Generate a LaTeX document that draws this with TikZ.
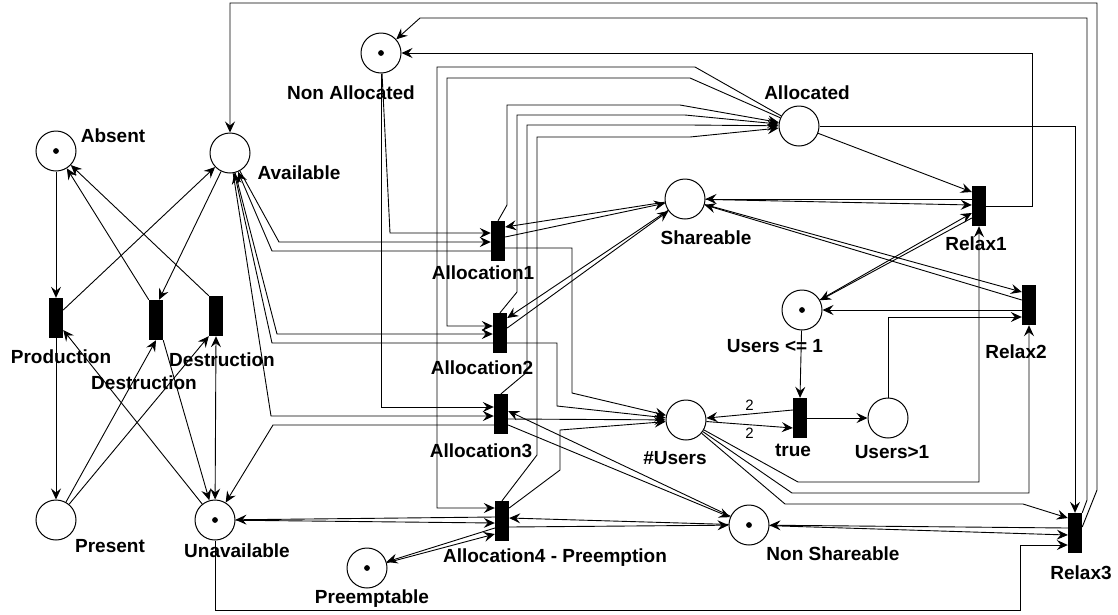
\documentclass[tikz,border=0pt]{standalone}
\usepackage{fontspec}
\setmainfont{Liberation Sans}
\usetikzlibrary{arrows.meta}
\begin{document}
\begin{tikzpicture}[x=1pt,y=-1pt,
  place/.style={circle,draw,line width=1pt,minimum size=40pt,inner sep=0pt,fill=white},
  trans/.style={rectangle,fill=black,minimum width=14pt,minimum height=40pt,inner sep=0pt},
  lab/.style={font=\fontsize{19}{22}\selectfont\bfseries,inner sep=0pt},
  wt/.style={font=\fontsize{15}{18}\selectfont,inner sep=0pt},
  arc/.style={line width=0.9pt,-{Stealth[length=11pt,width=10pt,inset=4pt]}},
  biarc/.style={line width=0.9pt,{Stealth[length=11pt,width=10pt,inset=4pt]}-{Stealth[length=11pt,width=10pt,inset=4pt]}}
]
\useasboundingbox (0,0) rectangle (1118,614);

% places
\node[place] (Absent) at (56,151) {};
\node[place] (Available) at (230,153) {};
\node[place] (Present) at (56,520) {};
\node[place] (Unavail) at (215,520) {};
\node[place] (Preempt) at (367,568) {};
\node[place] (NonAlloc) at (381,53) {};
\node[place] (Allocated) at (799,126) {};
\node[place] (Shareable) at (685,199) {};
\node[place] (UsersLe) at (802,310) {};
\node[place] (Users) at (686,420) {};
\node[place] (UsersGt) at (888,418) {};
\node[place] (NonShare) at (749,525) {};

% tokens of the initial marking
\foreach \p in {Absent,Unavail,Preempt,NonAlloc,UsersLe,NonShare}
  \fill (\p.center) circle (2.9pt);

% transitions
\node[trans] (Prod) at (56,318) {};
\node[trans] (DestrA) at (156,320) {};
\node[trans] (DestrB) at (216,316) {};
\node[trans] (Alloc1) at (498,241) {};
\node[trans] (Alloc2) at (500,333) {};
\node[trans] (Alloc3) at (501,414) {};
\node[trans] (Alloc4) at (502,521) {};
\node[trans] (Relax1) at (979,206) {};
\node[trans] (Relax2) at (1029,305) {};
\node[trans] (Relax3) at (1075,533) {};
\node[trans] (True) at (800,418) {};

% labels
\node[lab] (lAbsent) at (113,136) {Absent};
\node[lab] (lAvailable) at (299,173) {Available};
\node[lab] (lNonAlloc) at (351,93) {Non Allocated};
\node[lab] (lAllocated) at (807,93) {Allocated};
\node[lab] (lShareable) at (706,238) {Shareable};
\node[lab] (lRelax1) at (976,244) {Relax1};
\node[lab] (lAlloc1) at (483,273) {Allocation1};
\node[lab] (lUsersLe) at (775,346) {Users <= 1};
\node[lab] (lRelax2) at (1016,352) {Relax2};
\node[lab] (lProd) at (61,357) {Production};
\node[lab] (lDestrB) at (222,360) {Destruction};
\node[lab] (lDestrA) at (144,383) {Destruction};
\node[lab] (lAlloc2) at (482,368) {Allocation2};
\node[lab] (lAlloc3) at (481,451) {Allocation3};
\node[lab] (lUsers) at (675,458) {\#Users};
\node[lab] (lTrue) at (793,450) {true};
\node[lab] (lUsersGt) at (892,452) {Users>1};
\node[lab] (lPresent) at (110,546) {Present};
\node[lab] (lUnavail) at (237,551) {Unavailable};
\node[lab] (lAlloc4) at (555,558) {Allocation4 - Preemption};
\node[lab] (lNonShare) at (833,554) {Non Shareable};
\node[lab] (lRelax3) at (1081,573) {Relax3};
\node[lab] (lPreempt) at (372,599) {Preemptable};

% production / destruction
\draw[arc] (Absent) -- (Prod.north);
\draw[arc] (Prod.east |- 0,310) -- (Available);
\draw[arc] (Available) -- ([xshift=3pt]DestrA.north);
\draw[arc] (DestrA.north west) -- (Absent);
\draw[arc] (DestrB.north west) -- (Absent);
\draw[arc] (Prod.south) -- (Present);
\draw[arc] (Present) -- (DestrA.south);
\draw[arc] (Present) -- (DestrB.south west);
\draw[arc] (Unavail) -- (Prod.east |- 0,330);
\draw[arc] (DestrA.south east) -- (Unavail);
\draw[biarc] (DestrB.south) -- (Unavail);

% availability
\draw[arc] (Available) -- (279,242) -- (Alloc1.west |- 0,242);
\draw[arc] (Alloc1.west |- 0,251) -- (272,251) -- (Available);
\draw[arc] (Available) -- (277,334) -- (Alloc2.west |- 0,334);
\draw[arc] (Alloc2.west |- 0,343) -- (272,343) -- (Available);
\draw[arc] (Available) -- (271,416) -- (Alloc3.west |- 0,416);
\draw[arc] (Alloc3.west |- 0,425) -- (273,425) -- (Unavail);
\draw[arc] (Alloc4.west |- 0,517) -- (Unavail);
\draw[arc] (Unavail) -- (Alloc4.west |- 0,523);
\draw[arc] (Alloc4.west |- 0,528) -- (Preempt);
\draw[arc] (Preempt) -- (Alloc4.west |- 0,534);
\draw[arc] (Unavail) -- (215,610) -- (1020,610) -- (1020,545) -- (Relax3.west |- 0,545);
\draw[arc] (Relax3.east |- 0,527) -- (1097,490) -- (1097,3) -- (230,3) -- (Available);

% non allocated
\draw[arc] (NonAlloc) -- (390,233) -- (Alloc1.west |- 0,233);
\draw[arc] (NonAlloc) -- (381,407) -- (Alloc3.west |- 0,407);
\draw[arc] (Relax1.east |- 0,206) -- (1032,206) -- (1032,53) -- (NonAlloc);
\draw[arc] (Relax3.north east) -- (1087,500) -- (1087,18) -- (420,18) -- (NonAlloc);

% allocated
\draw[arc] (Allocated.east) -- (Relax3.north |- Allocated.east) -- (Relax3.north);
\draw[arc] (Allocated) -- (Relax1.west |- 0,192);
\draw[arc] (Allocated) -- (695,67) -- (437,67) -- (437,508) -- (Alloc4.west |- 0,508);
\draw[arc] (Allocated) -- (690,78) -- (447,78) -- (447,326) -- (Alloc2.west |- 0,326);
\draw[arc] (Alloc1.north) -- (507,205) -- (507,105) -- (680,105) -- (Allocated);
\draw[arc] (Alloc2.north) -- (517,292) -- (517,115) -- (685,115) -- (Allocated);
\draw[arc] (Alloc3.north) -- (527,372) -- (527,125) -- (690,125) -- (Allocated);
\draw[arc] (Alloc4.north) -- (537,455) -- (537,137) -- (690,137) -- (Allocated);

% shareable
\draw[arc] (Shareable) -- (Alloc1.east |- 0,227);
\draw[arc] (Alloc1.east |- 0,237) -- (Shareable);
\draw[arc] (Shareable) -- (Alloc2.east |- 0,318);
\draw[arc] (Alloc2.east |- 0,328) -- (Shareable);
\draw[arc] (Relax1.west |- 0,199) -- (Shareable);
\draw[arc] (Shareable) -- (Relax1.west |- 0,205);
\draw[arc] (Relax2.west |- 0,300) -- (Shareable);
\draw[arc] (Shareable) -- (Relax2.west |- 0,292);

% users count
\draw[arc] (Relax1.west |- 0,218) -- (UsersLe);
\draw[arc] (UsersLe) -- (Relax1.west |- 0,213);
\draw[arc] (Relax2.west |- 0,310) -- (UsersLe);
\draw[arc] (UsersGt) -- (888,317) -- (Relax2.west |- 0,317);
\draw[arc] (UsersLe) -- (True.north);
\draw[arc] (True.east) -- (UsersGt);
\draw[arc] (True.west |- 0,410) -- node[wt,above=3pt] (w1) {2} (Users);
\draw[arc] (Users) -- node[wt,below=3pt] (w2) {2} (True.west |- 0,428);
\draw[arc] (Alloc1.east |- 0,248) -- (572,248) -- (572,393) -- (Users);
\draw[arc] (Alloc2.east |- 0,343) -- (557,343) -- (557,406) -- (Users);
\draw[arc] (Alloc3.east |- 0,419) -- (Users);
\draw[arc] (Alloc4.east |- 0,508) -- (560,470) -- (560,430) -- (Users);
\draw[arc] (Users) -- (798,482) -- (979,482) -- (Relax1.south);
\draw[arc] (Users) -- (792,493) -- (1029,493) -- (Relax2.south);
\draw[arc] (Users) -- (785,504) -- (1023,504) -- (Relax3.west |- 0,518);

% non shareable
\draw[arc] (NonShare) -- (Alloc3.east |- 0,411);
\draw[arc] (Alloc3.east |- 0,425) -- (NonShare);
\draw[arc] (NonShare) -- (Alloc4.east |- 0,518);
\draw[arc] (Alloc4.east |- 0,527) -- (NonShare);
\draw[arc] (Relax3.west |- 0,528) -- (NonShare);
\draw[arc] (NonShare) -- (Relax3.west |- 0,535);
\end{tikzpicture}
\end{document}
